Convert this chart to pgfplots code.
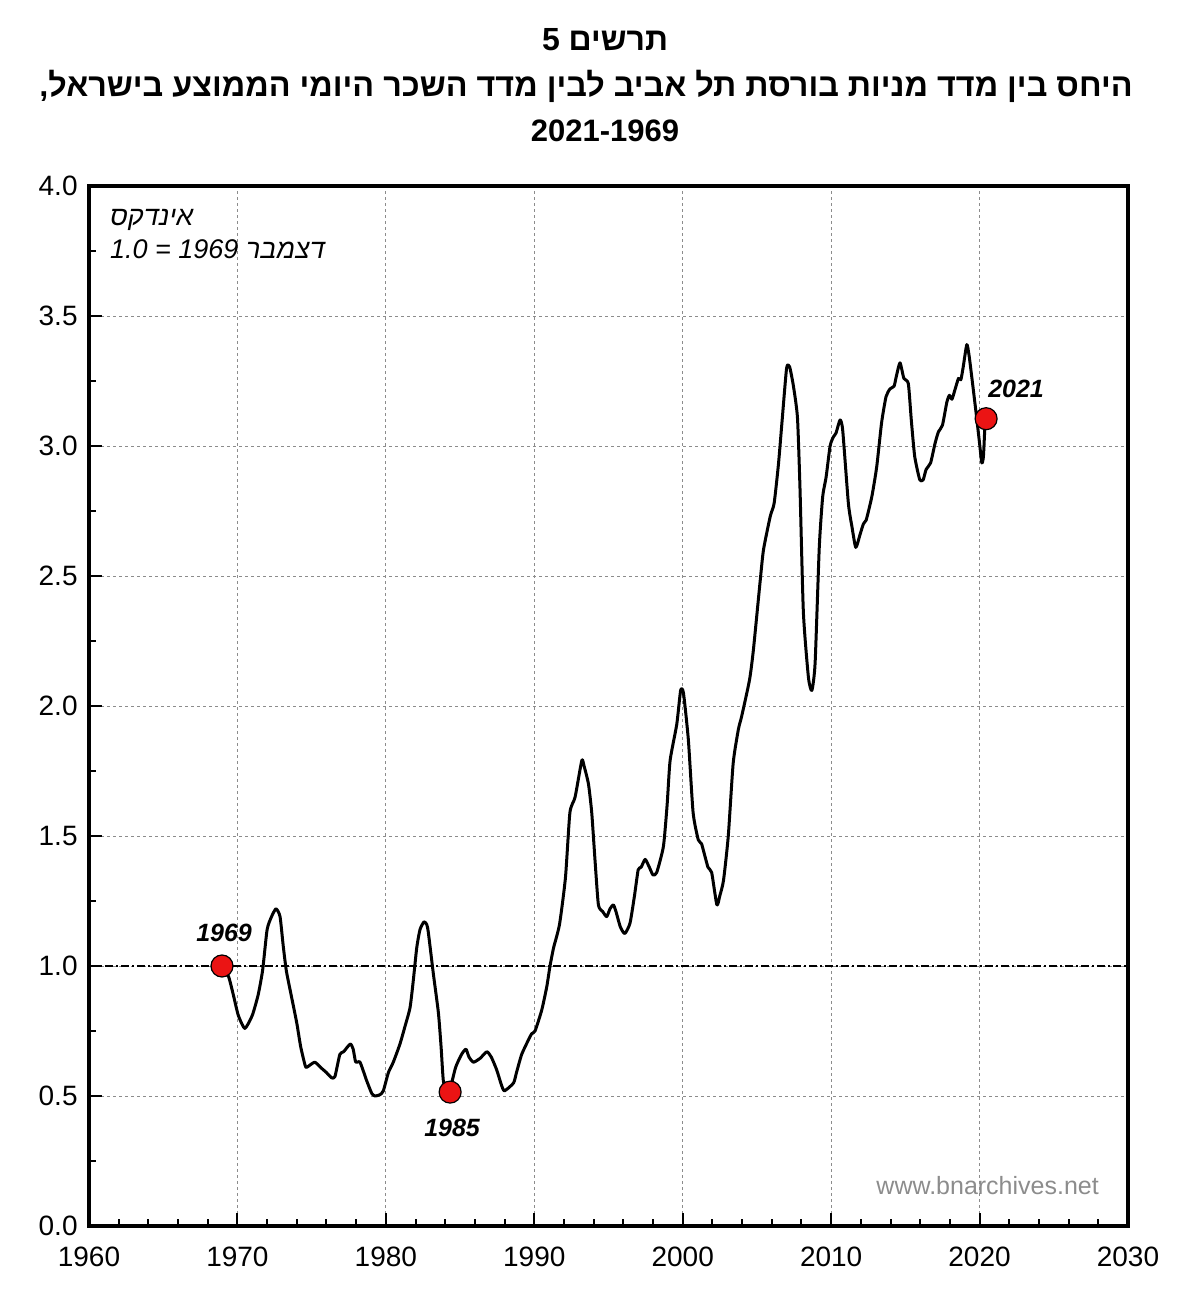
\documentclass[border=0pt]{standalone}
\usepackage{fontspec}
\setmainfont{Liberation Sans}
\newfontfamily\hebfont[Script=Hebrew]{Liberation Sans}
\TeXXeTstate=1
\usepackage{graphicx}
\usepackage{pgfplots}
\pgfplotsset{compat=1.18}
\definecolor{mk}{RGB}{235,20,20}
\definecolor{gridgray}{RGB}{140,140,140}
\begin{document}
\begin{tikzpicture}
\begin{axis}[
  at={(0,0)}, anchor=south west,
  scale only axis, width=519.5pt, height=520pt,
  xmin=1960, xmax=2030, ymin=0, ymax=4,
  xtick={1960,1970,...,2030}, ytick={0,0.5,...,4},
  minor x tick num=4, minor y tick num=1,
  tick pos=left, tick align=inside,
  major tick length=6.5pt, minor tick length=3.5pt,
  tick style={black, line width=1pt},
  grid=major,
  major grid style={gridgray, dash pattern=on 1.5pt off 1.5pt, line width=0.5pt},
  axis line style={line width=1.6pt},
  clip=false,
  /pgf/number format/assume math mode=true,
  xticklabel style={/pgf/number format/set thousands separator={}, anchor=center, yshift=-15.5pt, font=\fontsize{14}{16}\selectfont},
  yticklabel style={/pgf/number format/.cd, fixed, fixed zerofill, precision=1, /tikz/.cd, anchor=east, inner sep=0pt, xshift=-5.5pt, font=\fontsize{14}{16}\selectfont},
]
\addplot[black, line width=0.7pt, dash pattern=on 4pt off 1.5pt on 1pt off 1.5pt] coordinates {(1960,1) (2030,1)};
\addplot[only marks, mark=*, mark size=5.5pt, mark options={fill=mk, draw=black, line width=0.6pt}] coordinates {(1968.96,1.00) (1984.33,0.515) (2020.44,3.105)};
\addplot[black, line width=1.5pt, line join=round, smooth, tension=0.35] coordinates {
(1968.96,1.00) (1969.4,0.96) (1969.72,0.89) (1970.06,0.81) (1970.5,0.76) (1971.0,0.81) (1971.4,0.89) (1971.7,0.985) (1972.0,1.14) (1972.3,1.19) (1972.6,1.22) (1972.87,1.19)
(1973.09,1.075) (1973.3,0.98) (1973.65,0.88) (1974.0,0.78) (1974.26,0.69) (1974.55,0.62) (1974.66,0.61) (1975.2,0.63) (1975.6,0.61) (1976.0,0.59) (1976.35,0.57) (1976.57,0.575) (1976.9,0.66) (1977.15,0.67) (1977.6,0.70) (1977.8,0.68) (1977.97,0.63) (1978.26,0.63) (1978.7,0.56) (1979.05,0.51) (1979.27,0.50) (1979.6,0.505) (1979.83,0.52) (1980.17,0.59) (1980.5,0.63) (1980.95,0.70) (1981.3,0.77) (1981.63,0.84) (1981.85,0.945) (1982.08,1.07) (1982.3,1.14) (1982.57,1.17) (1982.75,1.16) (1982.86,1.13) (1983.2,0.97) (1983.54,0.82) (1983.72,0.69) (1983.87,0.56) (1984.1,0.51) (1984.3,0.52) (1984.7,0.61) (1985.1,0.66) (1985.4,0.68) (1985.6,0.65) (1985.9,0.63) (1986.35,0.645) (1986.8,0.67) (1987.1,0.65) (1987.47,0.60) (1987.8,0.54) (1988.0,0.52) (1988.6,0.55) (1988.8,0.59) (1989.15,0.66) (1989.6,0.715) (1989.83,0.74) (1990.05,0.75) (1990.5,0.83) (1990.84,0.92) (1991.06,1.0)
(1991.3,1.07) (1991.7,1.16) (1992.1,1.34) (1992.4,1.59) (1992.75,1.65) (1993.2,1.79) (1993.35,1.77) (1993.65,1.70) (1993.87,1.59) (1994.1,1.40) (1994.32,1.235) (1994.6,1.21) (1994.88,1.19) (1995.1,1.22) (1995.33,1.235) (1995.5,1.21) (1995.8,1.15) (1996.1,1.125) (1996.45,1.165) (1996.75,1.27) (1997.0,1.37) (1997.2,1.38) (1997.47,1.41) (1997.75,1.38) (1998.0,1.35) (1998.25,1.36) (1998.7,1.46) (1998.95,1.62) (1999.15,1.79) (1999.6,1.93) (1999.86,2.06) (2000.05,2.05) (2000.38,1.87) (2000.7,1.59) (2001.05,1.485) (2001.27,1.47) (2001.7,1.38) (2001.95,1.36) (2002.3,1.235) (2002.5,1.27) (2002.75,1.33) (2003.07,1.50) (2003.4,1.78) (2003.75,1.91) (2003.97,1.96) (2004.5,2.10) (2004.76,2.215)
(2005.2,2.47) (2005.44,2.60) (2005.9,2.73) (2006.16,2.78) (2006.45,2.93) (2006.7,3.10) (2007.0,3.30) (2007.2,3.305) (2007.46,3.23) (2007.73,3.11) (2007.9,2.84) (2008.13,2.36) (2008.47,2.11) (2008.7,2.06) (2008.92,2.165) (2009.2,2.61) (2009.43,2.805) (2009.66,2.88) (2009.93,3.0) (2010.15,3.035) (2010.33,3.05) (2010.6,3.10) (2010.78,3.06) (2011.16,2.78) (2011.4,2.69) (2011.66,2.61) (2011.95,2.66) (2012.17,2.70) (2012.36,2.715) (2012.74,2.805) (2013.07,2.92) (2013.4,3.09) (2013.7,3.19) (2013.97,3.22) (2014.24,3.23) (2014.4,3.27) (2014.64,3.32) (2014.9,3.26) (2015.2,3.24) (2015.4,3.10) (2015.63,2.96) (2015.97,2.87) (2016.2,2.87) (2016.4,2.91) (2016.7,2.935) (2017.0,3.01) (2017.23,3.055) (2017.5,3.08) (2017.8,3.17) (2017.97,3.195) (2018.14,3.18) (2018.36,3.22) (2018.58,3.26) (2018.74,3.255) (2018.9,3.305) (2019.14,3.39) (2019.3,3.345) (2019.55,3.23) (2019.77,3.125) (2020.0,3.01) (2020.15,2.935) (2020.26,2.96) (2020.38,3.10) (2020.44,3.105)
};
\node[font=\bfseries\itshape\fontsize{12.5}{14}\selectfont] at (axis cs:1969.1,1.127) {1969};
\node[font=\bfseries\itshape\fontsize{12.5}{14}\selectfont] at (axis cs:1984.46,0.377) {1985};
\node[font=\bfseries\itshape\fontsize{12.5}{14}\selectfont] at (axis cs:2022.46,3.22) {2021};
\node[anchor=west, inner sep=0pt, font=\fontsize{13.5}{15}\selectfont] at (axis cs:1961.4,3.87) {\hebfont\itshape\beginR אינדקס\endR};
\node[anchor=west, inner sep=0pt, font=\fontsize{13.5}{15}\selectfont] at (axis cs:1961.4,3.755) {\hebfont\itshape\beginR דצמבר \beginL 1.0 = 1969\endL\endR};
\node[anchor=east, inner sep=0pt, text=gridgray, font=\fontsize{12.5}{14}\selectfont] at (axis cs:2028.06,0.154) {www.bnarchives.net};
\end{axis}
\node[inner sep=0pt] at (258pt,593pt) {\resizebox{63pt}{!}{\hebfont\bfseries\beginR תרשים 5\endR}};
\node[inner sep=0pt] at (248.5pt,570pt) {\resizebox{546.5pt}{!}{\hebfont\bfseries\beginR היחס בין מדד מניות בורסת תל אביב לבין מדד השכר היומי הממוצע בישראל,\endR}};
\node[inner sep=0pt, font=\bfseries\fontsize{15.5}{17}\selectfont] at (258pt,547.5pt) {2021-1969};
\pgfresetboundingbox
\path[use as bounding box] (-44.5pt,-41pt) rectangle (547pt,613pt);
\end{tikzpicture}
\end{document}
